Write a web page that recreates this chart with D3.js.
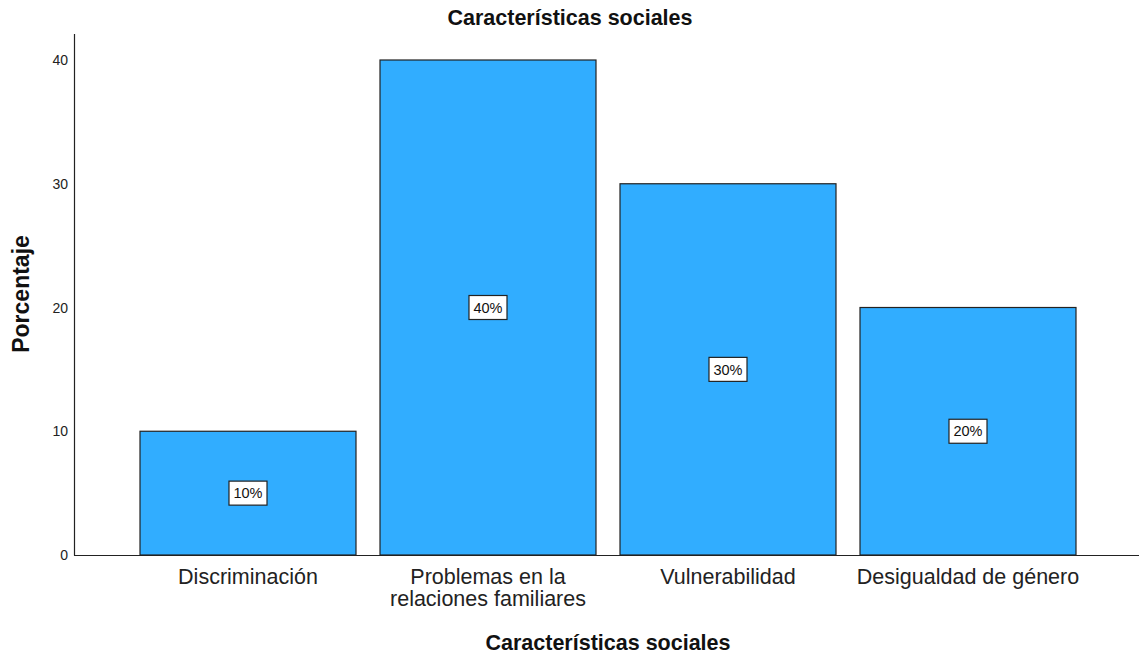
<!DOCTYPE html>
<html><head><meta charset="utf-8">
<script src="https://cdn.jsdelivr.net/npm/d3@7"></script>
<style>body{margin:0;background:#fff;} svg{display:block;font-family:"Liberation Sans",Arial,sans-serif;}</style>
</head><body>
<svg id="c" width="1139" height="657"></svg>
<script>
const categories = [["Discriminación"], ["Problemas en la", "relaciones familiares"], ["Vulnerabilidad"], ["Desigualdad de género"]];
const values = [10, 40, 30, 20];
const labels = ["10%", "40%", "30%", "20%"];
const yTicks = [0, 10, 20, 30, 40];
const title = "Características sociales";
const xTitle = "Características sociales";
const yTitle = "Porcentaje";

const svg = d3.select("#c");
const keys = categories.map((c, i) => i);
const x = d3.scaleBand().domain(keys).range([128, 1088]).paddingInner(0.1).paddingOuter(0.05);
const y = d3.scaleLinear().domain([0, 40]).range([555, 60]);

// y axis line
svg.append("line").attr("x1", 74.5).attr("x2", 74.5).attr("y1", 34).attr("y2", 555.5).attr("stroke", "#222").attr("stroke-width", 1.2);
// x axis line
svg.append("line").attr("x1", 74).attr("x2", 1139).attr("y1", 555.5).attr("y2", 555.5).attr("stroke", "#222").attr("stroke-width", 1.2);

// y ticks
svg.selectAll(".yt").data(yTicks).enter().append("text")
  .attr("x", 68).attr("y", d => y(d)).attr("dy", "0.36em").attr("text-anchor", "end")
  .attr("font-size", 14).attr("fill", "#222").text(d => d);

// bars
svg.selectAll(".bar").data(values).enter().append("rect")
  .attr("x", (d, i) => x(i)).attr("width", x.bandwidth())
  .attr("y", d => y(d)).attr("height", d => y(0) - y(d))
  .attr("fill", "#31adff").attr("stroke", "#222").attr("stroke-width", 1.2);

// value labels
const lg = svg.selectAll(".lbl").data(values).enter().append("g")
  .attr("transform", (d, i) => `translate(${x(i) + x.bandwidth() / 2},${y(d / 2)})`);
lg.append("rect").attr("x", -19).attr("y", -12).attr("width", 38).attr("height", 24)
  .attr("fill", "#fff").attr("stroke", "#222").attr("stroke-width", 1.2);
lg.append("text").attr("text-anchor", "middle").attr("dy", "0.36em").attr("font-size", 14.5)
  .attr("fill", "#111").text((d, i) => labels[i]);

// category labels
categories.forEach((lines, i) => {
  const t = svg.append("text").attr("text-anchor", "middle").attr("font-size", 21.5).attr("fill", "#222")
    .attr("x", x(i) + x.bandwidth() / 2).attr("y", 584);
  lines.forEach((ln, j) => t.append("tspan").attr("x", x(i) + x.bandwidth() / 2).attr("dy", j === 0 ? 0 : 22).text(ln));
});

// titles
svg.append("text").attr("x", 570).attr("y", 25).attr("text-anchor", "middle").attr("font-size", 21.5)
  .attr("font-weight", "bold").attr("fill", "#111").text(title);
svg.append("text").attr("x", 608).attr("y", 650).attr("text-anchor", "middle").attr("font-size", 21.5)
  .attr("font-weight", "bold").attr("fill", "#111").text(xTitle);
svg.append("text").attr("transform", "translate(29,294) rotate(-90)").attr("text-anchor", "middle")
  .attr("font-size", 23).attr("font-weight", "bold").attr("fill", "#111").text(yTitle);
</script>
</body></html>
